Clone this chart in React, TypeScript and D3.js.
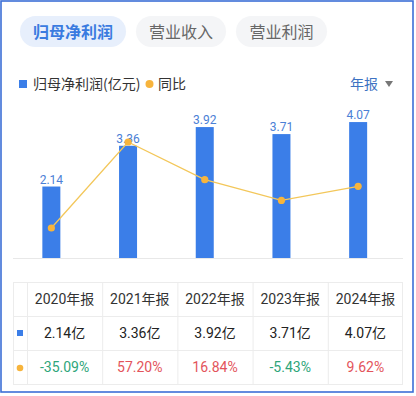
import React from "react";
import * as d3 from "d3";

const categories = ["2020年报", "2021年报", "2022年报", "2023年报", "2024年报"];
const profit = [2.14, 3.36, 3.92, 3.71, 4.07];
const yoy = [-35.09, 57.2, 16.84, -5.43, 9.62];
const tabs = ["归母净利润", "营业收入", "营业利润"];

const W = 416;
const H = 396;
const CJK = "'Noto Sans CJK SC', 'Noto Sans', sans-serif";
const NUM = "Roboto, 'Noto Sans CJK SC', sans-serif";

export default function App() {
  const x = d3.scaleBand<string>().domain(categories).range([13, 396.5]).paddingInner(0).paddingOuter(0);
  const yBar = d3.scaleLinear().domain([0, 5]).range([258, 91]);
  const yLine = d3.scaleLinear().domain([-40, 60]).range([232.6, 139.4]);
  const barW = 18;
  const cx = (c: string) => (x(c) as number) + x.bandwidth() / 2;
  const linePath = d3
    .line<number>()
    .x((_, i) => cx(categories[i]))
    .y((d) => yLine(d))(yoy) as string;

  const tabX = [20, 136, 236];
  const tabW = [106, 90, 91];

  const tableLeft = 13;
  const tableRight = 403;
  const firstCol = 27;
  const colW = (tableRight - firstCol) / categories.length;
  const rowYs = [282, 316, 350, 384];
  const green = "#2ea57a";
  const red = "#e3545b";

  return (
    <svg width={W} height={H} style={{ position: "absolute", left: 0, top: 0, background: "#fff" }}>
      <rect x={1} y={1} width={412} height={391} fill="#fff" stroke="#3c6fd6" strokeWidth={1.6} />
      {tabs.map((t, i) => (
        <g key={t}>
          <rect x={tabX[i]} y={16} width={tabW[i]} height={31} rx={15.5} fill={i === 0 ? "#e7effc" : "#f4f5f7"} />
          <text
            x={tabX[i] + tabW[i] / 2}
            y={32}
            dy="0.35em"
            textAnchor="middle"
            fontFamily={CJK}
            fontSize={16}
            fontWeight={i === 0 ? 700 : 400}
            fill={i === 0 ? "#3a7be0" : "#666"}
          >
            {t}
          </text>
        </g>
      ))}
      {/* legend */}
      <rect x={19} y={80} width={8} height={8} fill="#3b7ee8" />
      <text x={33} y={84} dy="0.35em" fontFamily={CJK} fontSize={14} fill="#333">
        归母净利润(亿元)
      </text>
      <circle cx={149.5} cy={84} r={4} fill="#f7b43c" />
      <text x={158} y={84} dy="0.35em" fontFamily={CJK} fontSize={14} fill="#333">
        同比
      </text>
      <text x={350} y={84} dy="0.35em" fontFamily={CJK} fontSize={14} fill="#3d72c2">
        年报
      </text>
      <path d="M385,81 L393,81 L389,87 Z" fill="#777" />

      {/* axis line */}
      <line x1={13} x2={403} y1={258.5} y2={258.5} stroke="#e8e8e8" strokeWidth={1} />

      {/* bars */}
      {profit.map((v, i) => (
        <g key={categories[i]}>
          <rect x={cx(categories[i]) - barW / 2} y={yBar(v)} width={barW} height={yBar(0) - yBar(v)} fill="#3b7ee8" />
          <text
            x={cx(categories[i])}
            y={yBar(v) - 3}
            textAnchor="middle"
            fontFamily={NUM}
            fontSize={12}
            fill="#4b80d6"
          >
            {v.toFixed(2)}
          </text>
        </g>
      ))}

      {/* line */}
      <path d={linePath} fill="none" stroke="#f3c75a" strokeWidth={1.3} />
      {yoy.map((v, i) => (
        <circle key={i} cx={cx(categories[i])} cy={yLine(v)} r={3.6} fill="#f7b43c" />
      ))}

      {/* table */}
      <g stroke="#ececec" strokeWidth={1} fill="none">
        <rect x={tableLeft + 0.5} y={rowYs[0] + 0.5} width={tableRight - tableLeft - 1} height={rowYs[3] - rowYs[0]} />
        {rowYs.slice(1, 3).map((y) => (
          <line key={y} x1={tableLeft} x2={tableRight} y1={y + 0.5} y2={y + 0.5} />
        ))}
        {categories.map((c, i) => (
          <line key={c} x1={firstCol + i * colW + 0.5} x2={firstCol + i * colW + 0.5} y1={rowYs[0]} y2={rowYs[3]} />
        ))}
      </g>
      {categories.map((c, i) => {
        const mx = firstCol + colW * (i + 0.5);
        const r0 = (rowYs[0] + rowYs[1]) / 2;
        const r1 = (rowYs[1] + rowYs[2]) / 2;
        const r2 = (rowYs[2] + rowYs[3]) / 2;
        return (
          <g key={c}>
            <text x={mx} y={r0} dy="0.35em" textAnchor="middle" fontFamily={NUM} fontSize={14} fill="#333">
              {c}
            </text>
            <text x={mx} y={r1} dy="0.35em" textAnchor="middle" fontFamily={NUM} fontSize={14} fill="#222">
              {profit[i].toFixed(2) + "亿"}
            </text>
            <text
              x={mx}
              y={r2}
              dy="0.35em"
              textAnchor="middle"
              fontFamily={NUM}
              fontSize={14}
              fill={yoy[i] < 0 ? green : red}
            >
              {yoy[i].toFixed(2) + "%"}
            </text>
          </g>
        );
      })}
      <rect x={17} y={330} width={6} height={6} fill="#3b7ee8" />
      <circle cx={20} cy={368} r={3.3} fill="#f7b43c" />
    </svg>
  );
}
